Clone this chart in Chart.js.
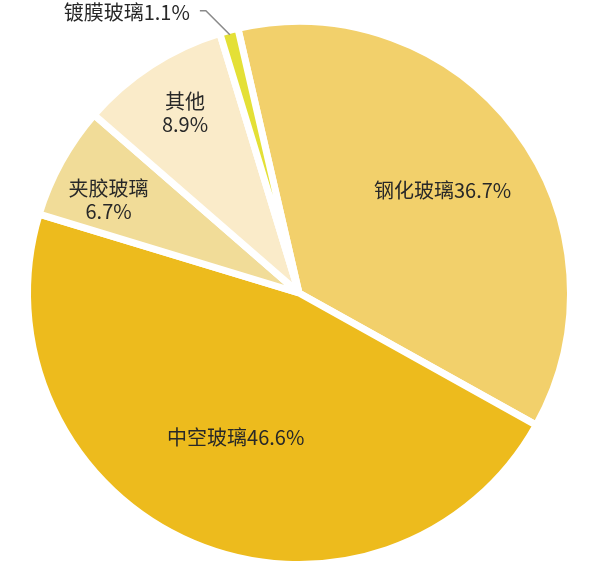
<!DOCTYPE html>
<html>
<head>
<meta charset="utf-8">
<script src="https://cdn.jsdelivr.net/npm/chart.js@4"></script>
<style>
  html, body { margin: 0; padding: 0; background: #fff; }
  #wrap { width: 600px; height: 571px; position: relative; }
</style>
</head>
<body>
<div id="wrap"><canvas id="pie"></canvas></div>
<script>
// ── DATA ──
const labels = ['钢化玻璃', '中空玻璃', '夹胶玻璃', '其他', '镀膜玻璃'];
const shares = [36.7, 46.6, 6.7, 8.9, 1.1];
const colors = ['#F2D06B', '#EDBB1D', '#F1DC98', '#FAEBC9', '#E4E036'];

// label placement: fraction of radius, angle nudge (deg) from slice mid-angle
const labelRadius = [0.65, 0.58, 0.78, 0.786, null];
const labelShift  = [1.4, 0.7, -3, 0.7, 0];
const twoLine     = [false, false, true, true, false];

const FONT = "'Noto Sans CJK SC', 'Noto Sans', sans-serif";

// ── LABEL PLUGIN ──
const sliceLabels = {
  id: 'sliceLabels',
  afterDatasetsDraw(chart) {
    const ctx = chart.ctx;
    const arcs = chart.getDatasetMeta(0).data;
    ctx.save();
    ctx.fillStyle = '#282828';
    ctx.font = `20px ${FONT}`;
    arcs.forEach((arc, i) => {
      const { x, y, startAngle, endAngle, outerRadius } = arc.getProps(['x', 'y', 'startAngle', 'endAngle', 'outerRadius'], true);
      const mid = (startAngle + endAngle) / 2 + labelShift[i] * Math.PI / 180;
      const pct = shares[i].toFixed(1) + '%';
      if (labelRadius[i] !== null) {
        const r = outerRadius * labelRadius[i];
        const lx = x + Math.cos(mid) * r;
        const ly = y + Math.sin(mid) * r;
        ctx.textAlign = 'center';
        ctx.textBaseline = 'middle';
        if (twoLine[i]) {
          ctx.fillText(labels[i], lx, ly - 11.5);
          ctx.fillText(pct, lx, ly + 11.5);
        } else {
          ctx.fillText(labels[i] + pct, lx, ly);
        }
      } else {
        // outside label with leader line
        const px = x + Math.cos(mid) * outerRadius * 0.985;
        const py = y + Math.sin(mid) * outerRadius * 0.985;
        const ex = px - 24, ey = py - 24;
        ctx.strokeStyle = '#8a8a8a';
        ctx.lineWidth = 1.5;
        ctx.beginPath();
        ctx.moveTo(px, py);
        ctx.lineTo(ex, ey);
        ctx.lineTo(ex - 6, ey);
        ctx.stroke();
        ctx.textAlign = 'right';
        ctx.textBaseline = 'middle';
        ctx.fillText(labels[i] + pct, ex - 16, ey + 2);
      }
    });
    ctx.restore();
  }
};

// ── CHART ──
new Chart(document.getElementById('pie'), {
  type: 'pie',
  data: {
    labels: labels,
    datasets: [{
      data: shares,
      backgroundColor: colors,
      borderColor: '#ffffff',
      borderWidth: 7,
      hoverOffset: 0
    }]
  },
  options: {
    responsive: true,
    maintainAspectRatio: false,
    animation: false,
    rotation: -13,
    layout: { padding: { left: 24, right: 26, top: 18, bottom: 3 } },
    plugins: {
      legend: { display: false },
      tooltip: { enabled: false }
    }
  },
  plugins: [sliceLabels]
});
</script>
</body>
</html>
